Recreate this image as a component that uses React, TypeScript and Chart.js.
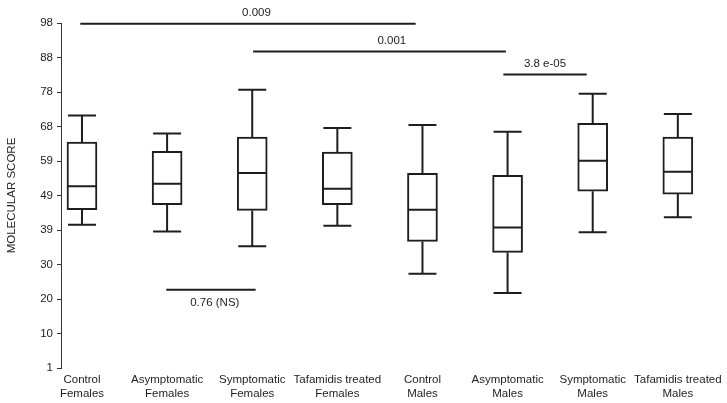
import React, { useEffect, useRef } from "react";
import { Chart, registerables } from "chart.js";

Chart.register(...registerables);

const categories: string[][] = [
  ["Control", "Females"],
  ["Asymptomatic", "Females"],
  ["Symptomatic", "Females"],
  ["Tafamidis treated", "Females"],
  ["Control", "Males"],
  ["Asymptomatic", "Males"],
  ["Symptomatic", "Males"],
  ["Tafamidis treated", "Males"],
];

const whiskerMin = [41.3, 39.4, 35.2, 41.0, 27.5, 22.1, 39.2, 43.4];
const quartile1 = [45.5, 46.9, 45.3, 46.9, 36.6, 33.5, 50.7, 49.9];
const medians = [52.1, 52.8, 55.8, 51.4, 45.5, 40.5, 59.3, 56.2];
const quartile3 = [64.5, 61.9, 65.9, 61.7, 55.7, 55.2, 69.8, 65.9];
const whiskerMax = [72.0, 66.9, 79.2, 68.5, 69.3, 67.4, 78.1, 72.4];

const yTickValues = [1, 10.7, 20.4, 30.1, 39.8, 49.5, 59.2, 68.9, 78.6, 88.3, 98];
const yTickLabels = ["1", "10", "20", "30", "39", "49", "59", "68", "78", "88", "98"];

const bracketFrom = [-0.02, 2.01, 4.95, 0.99];
const bracketTo = [3.92, 4.98, 5.93, 2.04];
const bracketValue = [97.8, 90.0, 83.5, 23.0];
const bracketLabelAt = [2.05, 3.64, 5.44, 1.56];
const bracketLabels = ["0.009", "0.001", "3.8 e-05", "0.76 (NS)"];
const bracketLabelBelow = [false, false, false, true];

const INK = "#1e1e1e";
const FONT_FAMILY = "Arial, 'Liberation Sans', sans-serif";

const boxExtrasPlugin = {
  id: "boxExtras",
  afterDatasetsDraw(chart: any) {
    const { ctx, scales } = chart;
    const xs = scales.x;
    const ys = scales.y;
    const half = 14;
    ctx.save();
    ctx.strokeStyle = INK;
    ctx.lineWidth = 2;
    ctx.lineCap = "butt";
    for (let i = 0; i < categories.length; i++) {
      const cx = xs.getPixelForValue(i);
      const yMax = ys.getPixelForValue(whiskerMax[i]);
      const yQ3 = ys.getPixelForValue(quartile3[i]);
      const yMed = ys.getPixelForValue(medians[i]);
      const yQ1 = ys.getPixelForValue(quartile1[i]);
      const yMin = ys.getPixelForValue(whiskerMin[i]);
      ctx.beginPath();
      ctx.moveTo(cx - half, yMed);
      ctx.lineTo(cx + half, yMed);
      ctx.moveTo(cx, yQ3);
      ctx.lineTo(cx, yMax);
      ctx.moveTo(cx - half, yMax);
      ctx.lineTo(cx + half, yMax);
      ctx.moveTo(cx, yQ1);
      ctx.lineTo(cx, yMin);
      ctx.moveTo(cx - half, yMin);
      ctx.lineTo(cx + half, yMin);
      ctx.stroke();
    }
    ctx.font = `11.5px ${FONT_FAMILY}`;
    ctx.fillStyle = INK;
    ctx.textAlign = "center";
    ctx.textBaseline = "middle";
    for (let i = 0; i < bracketLabels.length; i++) {
      const x1 = xs.getPixelForValue(bracketFrom[i]);
      const x2 = xs.getPixelForValue(bracketTo[i]);
      const y = ys.getPixelForValue(bracketValue[i]);
      ctx.beginPath();
      ctx.moveTo(x1, y);
      ctx.lineTo(x2, y);
      ctx.stroke();
      const lx = xs.getPixelForValue(bracketLabelAt[i]);
      ctx.fillText(bracketLabels[i], lx, bracketLabelBelow[i] ? y + 13 : y - 11);
    }
    ctx.restore();
  },
};

export default function App() {
  const canvasRef = useRef<HTMLCanvasElement | null>(null);

  useEffect(() => {
    document.body.style.margin = "0";
    const canvas = canvasRef.current;
    if (!canvas) return;
    const font = { family: FONT_FAMILY, size: 11.5 };
    const chart = new Chart(canvas, {
      type: "bar",
      data: {
        datasets: [
          {
            label: "box",
            data: categories.map((_, i) => ({ x: i, y: [quartile1[i], quartile3[i]] })) as any,
            backgroundColor: "#ffffff",
            borderColor: INK,
            borderWidth: 2,
            borderSkipped: false,
            barThickness: 30,
          },
        ],
      },
      options: {
        animation: false,
        responsive: false,
        maintainAspectRatio: false,
        layout: { padding: { left: 0, right: 6, top: 23, bottom: 0 } },
        plugins: {
          legend: { display: false },
          tooltip: { enabled: false },
        },
        scales: {
          x: {
            type: "linear",
            offset: false,
            min: -0.2465,
            max: 7.5,
            grid: { display: false, drawTicks: false, offset: false },
            border: { display: false },
            afterBuildTicks: (s: any) => {
              s.ticks = categories.map((_, i) => ({ value: i }));
            },
            afterFit: (s: any) => {
              s.height = 35;
            },
            ticks: {
              autoSkip: false,
              maxRotation: 0,
              minRotation: 0,
              padding: 5,
              color: INK,
              font,
              callback: (v: any) => categories[Math.round(Number(v))],
            },
          },
          y: {
            type: "linear",
            min: 1,
            max: 98,
            afterBuildTicks: (s: any) => {
              s.ticks = yTickValues.map((v) => ({ value: v }));
            },
            afterFit: (s: any) => {
              s.width = 61;
            },
            grid: { drawOnChartArea: false, drawTicks: true, tickLength: 4, color: "#333" },
            border: { display: true, color: "#333", width: 1 },
            ticks: {
              padding: 4,
              color: INK,
              font,
              callback: (_v: any, idx: number) => yTickLabels[idx],
            },
            title: {
              display: true,
              text: "MOLECULAR SCORE",
              color: INK,
              font,
              padding: { top: 5, bottom: 0 },
            },
          },
        },
      },
      plugins: [boxExtrasPlugin],
    });
    return () => chart.destroy();
  }, []);

  return (
    <div style={{ position: "fixed", left: 0, top: 0, width: 727, height: 403, background: "#fff" }}>
      <canvas ref={canvasRef} width={727} height={403} />
    </div>
  );
}
